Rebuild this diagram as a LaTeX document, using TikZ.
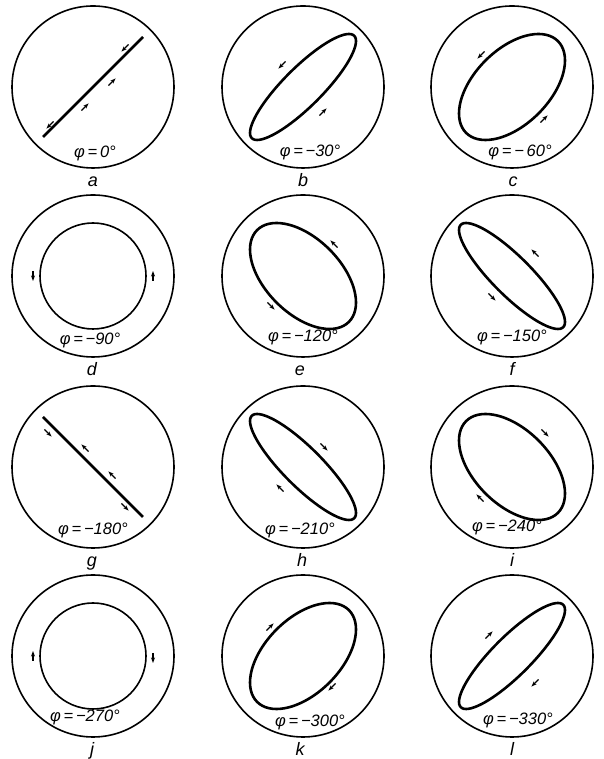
\documentclass[tikz,border=0pt]{standalone}
\usepackage{fontspec}
\setmainfont{Liberation Sans}
\usetikzlibrary{arrows.meta,calc}

\begin{document}
\begin{tikzpicture}[x=1pt,y=1pt,
  rim/.style={line width=1.6pt},
  orbit/.style={line width=2.6pt, line join=round},
  flow/.style={line width=1.1pt, -{Stealth[length=5.5pt,width=4pt]}},
  phase/.style={font=\fontsize{16.5}{19}\selectfont\itshape},
  tag/.style={font=\fontsize{18}{21}\selectfont\itshape, anchor=base}]

\useasboundingbox (0,0) rectangle (603,759);
% Set the sizes
\def\outr{81} % outer circle
\def\amp{53}  % amplitude of the figure
\def\lin{50}  % half length of the straight line

% Row 1
\begin{scope}[shift={(93,672)}]
\draw[rim] (0,0) circle (\outr);
\draw[orbit] (-\lin,-\lin) -- (\lin,\lin);
\draw[flow] ($(32,39)-(225:5)$) -- ++(225:10);
\draw[flow] ($(19,5)-(45:5)$) -- ++(45:10);
\draw[flow] ($(-8,-20)-(45:5)$) -- ++(45:10);
\draw[flow] ($(-43,-38)-(225:5)$) -- ++(225:10);
\node[phase] (phia) at (2,-66) {φ\,=\,0°};
\node[tag] (taga) at (0,-100) {a};
\end{scope}

\begin{scope}[shift={(303,672)}]
\draw[rim] (0,0) circle (\outr);
\draw[orbit] plot[domain=0:355, samples=72, smooth cycle] ({\amp*sin(\x)},{\amp*sin(\x-30)});
\draw[flow] ($(-21,22)-(225:5)$) -- ++(225:10);
\draw[flow] ($(20,-25)-(45:5)$) -- ++(45:10);
\node[phase] (phib) at (7,-65) {φ\,=\,−30°};
\node[tag] (tagb) at (0,-100) {b};
\end{scope}

\begin{scope}[shift={(512,672)}]
\draw[rim] (0,0) circle (\outr);
\draw[orbit] plot[domain=0:355, samples=72, smooth cycle] ({\amp*sin(\x)},{\amp*sin(\x-60)});
\draw[flow] ($(-31,32)-(225:5)$) -- ++(225:10);
\draw[flow] ($(32,-32)-(45:5)$) -- ++(45:10);
\node[phase] (phic) at (8,-65) {φ\,=\,−\,60°};
\node[tag] (tagc) at (1,-100) {c};
\end{scope}

% Row 2
\begin{scope}[shift={(93,483)}]
\draw[rim] (0,0) circle (\outr);
\draw[rim] (0,0) circle (\amp);
\draw[flow] ($(-60,0)-(270:5)$) -- ++(270:10);
\draw[flow] ($(60,0)-(90:5)$) -- ++(90:10);
\node[phase] (phid) at (-3,-64) {φ\,=\,−90°};
\node[tag] (tagd) at (-1,-100) {d};
\end{scope}

\begin{scope}[shift={(303,483)}]
\draw[rim] (0,0) circle (\outr);
\draw[orbit] plot[domain=0:355, samples=72, smooth cycle] ({\amp*sin(\x)},{\amp*sin(\x-120)});
\draw[flow] ($(31,32)-(135:5)$) -- ++(135:10);
\draw[flow] ($(-32,-30)-(-45:5)$) -- ++(-45:10);
\node[phase] (phie) at (0,-61) {φ\,=\,−120°};
\node[tag] (tage) at (-3,-100) {e};
\end{scope}

\begin{scope}[shift={(512,483)}]
\draw[rim] (0,0) circle (\outr);
\draw[orbit] plot[domain=0:355, samples=72, smooth cycle] ({\amp*sin(\x)},{\amp*sin(\x-150)});
\draw[flow] ($(23,23)-(135:5)$) -- ++(135:10);
\draw[flow] ($(-20,-21)-(-45:5)$) -- ++(-45:10);
\node[phase] (phif) at (0,-61) {φ\,=\,−150°};
\node[tag] (tagf) at (0,-100) {f};
\end{scope}

% Row 3
\begin{scope}[shift={(93,292)}]
\draw[rim] (0,0) circle (\outr);
\draw[orbit] (-\lin,\lin) -- (\lin,-\lin);
\draw[flow] ($(-45,34)-(-45:5)$) -- ++(-45:10);
\draw[flow] ($(-8,19)-(135:5)$) -- ++(135:10);
\draw[flow] ($(19,-8)-(135:5)$) -- ++(135:10);
\draw[flow] ($(32,-40)-(-45:5)$) -- ++(-45:10);
\node[phase] (phig) at (0,-63) {φ\,=\,−180°};
\node[tag] (tagg) at (-1,-100) {g};
\end{scope}

\begin{scope}[shift={(303,292)}]
\draw[rim] (0,0) circle (\outr);
\draw[orbit] plot[domain=0:355, samples=72, smooth cycle] ({\amp*sin(\x)},{\amp*sin(\x-210)});
\draw[flow] ($(21,20)-(-45:5)$) -- ++(-45:10);
\draw[flow] ($(-23,-21)-(135:5)$) -- ++(135:10);
\node[phase] (phih) at (-3,-63) {φ\,=\,−210°};
\node[tag] (tagh) at (-1,-100) {h};
\end{scope}

\begin{scope}[shift={(512,292)}]
\draw[rim] (0,0) circle (\outr);
\draw[orbit] plot[domain=0:355, samples=72, smooth cycle] ({\amp*sin(\x)},{\amp*sin(\x-240)});
\draw[flow] ($(33,34)-(-45:5)$) -- ++(-45:10);
\draw[flow] ($(-32,-31)-(135:5)$) -- ++(135:10);
\node[phase] (phii) at (-5,-60) {φ\,=\,−240°};
\node[tag] (tagi) at (0,-100) {i};
\end{scope}

% Row 4
\begin{scope}[shift={(93,103)}]
\draw[rim] (0,0) circle (\outr);
\draw[rim] (0,0) circle (\amp);
\draw[flow] ($(-60,0)-(90:5)$) -- ++(90:10);
\draw[flow] ($(60,-2)-(270:5)$) -- ++(270:10);
\node[phase] (phij) at (-8,-61) {φ\,=\,−270°};
\node[tag] (tagj) at (-1,-100) {j};
\end{scope}

\begin{scope}[shift={(303,103)}]
\draw[rim] (0,0) circle (\outr);
\draw[orbit] plot[domain=0:355, samples=72, smooth cycle] ({\amp*sin(\x)},{\amp*sin(\x-300)});
\draw[flow] ($(-33,29)-(45:5)$) -- ++(45:10);
\draw[flow] ($(29,-31)-(225:5)$) -- ++(225:10);
\node[phase] (phik) at (7,-66) {φ\,=\,−300°};
\node[tag] (tagk) at (-3,-100) {k};
\end{scope}

\begin{scope}[shift={(512,103)}]
\draw[rim] (0,0) circle (\outr);
\draw[orbit] plot[domain=0:355, samples=72, smooth cycle] ({\amp*sin(\x)},{\amp*sin(\x-330)});
\draw[flow] ($(-23,21)-(45:5)$) -- ++(45:10);
\draw[flow] ($(23,-27)-(225:5)$) -- ++(225:10);
\node[phase] (phil) at (6,-64) {φ\,=\,−330°};
\node[tag] (tagl) at (0,-100) {l};
\end{scope}
\end{tikzpicture}
\end{document}
